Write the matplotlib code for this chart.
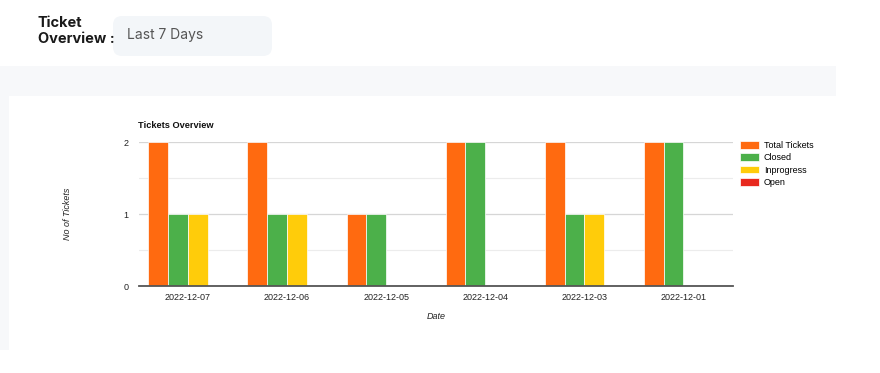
import numpy as np
import matplotlib.pyplot as plt
from matplotlib.patches import FancyBboxPatch, Rectangle

dates = ["2022-12-07", "2022-12-06", "2022-12-05", "2022-12-04", "2022-12-03", "2022-12-01"]
total = [2, 2, 1, 2, 2, 2]
closed = [1, 1, 1, 2, 1, 2]
inprogress = [1, 1, 0, 0, 1, 0]
opened = [0, 0, 0, 0, 0, 0]

series = [("Total Tickets", total, "#ff6a10"),
          ("Closed", closed, "#4cb04a"),
          ("Inprogress", inprogress, "#ffcc0a"),
          ("Open", opened, "#e8281e")]

plt.rcParams["font.family"] = ["Liberation Sans", "DejaVu Sans"]

W, H = 880, 373
fig = plt.figure(figsize=(W / 100, H / 100), dpi=100)
fig.patch.set_facecolor("white")

# background panels (page layout)
bg = fig.add_axes([0, 0, 1, 1], zorder=-5)
bg.set_xlim(0, W)
bg.set_ylim(H, 0)
bg.axis("off")
bg.add_patch(Rectangle((0, 66), 836, 284, color="#f7f8fa", lw=0))
bg.add_patch(Rectangle((9, 96), 827, 254, color="white", lw=0))
bg.add_patch(FancyBboxPatch((113, 16), 159, 40, boxstyle="round,pad=0,rounding_size=9",
                            fc="#f3f6f9", ec="none"))
bg.text(38, 31, "Ticket\nOverview :", fontsize=10.5, fontweight="bold", color="#1a1a1a",
        va="center", ha="left", linespacing=1.2, family="Inter")
bg.text(127, 35, "Last 7 Days", fontsize=10, color="#555555", va="center", ha="left",
        family="Inter")

# chart
x0, x1, y0, y1 = 138.5, 733, 142, 286
ax = fig.add_axes([x0 / W, 1 - y1 / H, (x1 - x0) / W, (y1 - y0) / H])
ax.set_facecolor("none")
x = np.arange(len(dates))
bw = 0.2
for i, (name, vals, col) in enumerate(series):
    ax.bar(x - 0.4 + bw * i + bw / 2, vals, bw, color=col, label=name,
           edgecolor="white", linewidth=0.5, zorder=3)

ax.set_xlim(-0.5, len(dates) - 0.5)
ax.set_ylim(0, 2)
ax.set_yticks([0, 1, 2])
ax.set_yticks([0.5, 1.5], minor=True)
ax.grid(axis="y", which="major", color="#d6d6d6", lw=0.9, zorder=0)
ax.grid(axis="y", which="minor", color="#ececec", lw=0.8, zorder=0)
ax.set_xticks(x)
ax.set_xticklabels(dates)
ax.tick_params(axis="both", which="both", length=0, labelsize=6.5, labelcolor="#222222")
ax.tick_params(axis="y", pad=7)
ax.tick_params(axis="x", pad=5)
for s in ["top", "right", "left"]:
    ax.spines[s].set_visible(False)
ax.spines["bottom"].set_color("#555555")
ax.spines["bottom"].set_linewidth(1.3)
ax.spines["bottom"].set_zorder(4)

ax.set_title("Tickets Overview", fontsize=6.7, fontweight="bold", loc="left",
             x=0.0, pad=10, color="#111111")
ax.set_xlabel("Date", fontsize=6.5, style="italic", color="#222222", labelpad=7)
ax.set_ylabel("No of Tickets", fontsize=6.5, style="italic", color="#222222", labelpad=0)
ax.yaxis.set_label_coords((72 - x0) / (x1 - x0), 0.5)

ax.legend(loc="upper left", bbox_to_anchor=(1.0, 1.058), frameon=False, fontsize=6.5,
          handlelength=2.1, handleheight=0.9, handletextpad=0.5, labelspacing=0.38,
          borderaxespad=0.4)

fig.savefig("out.png", dpi=100, facecolor="white")
